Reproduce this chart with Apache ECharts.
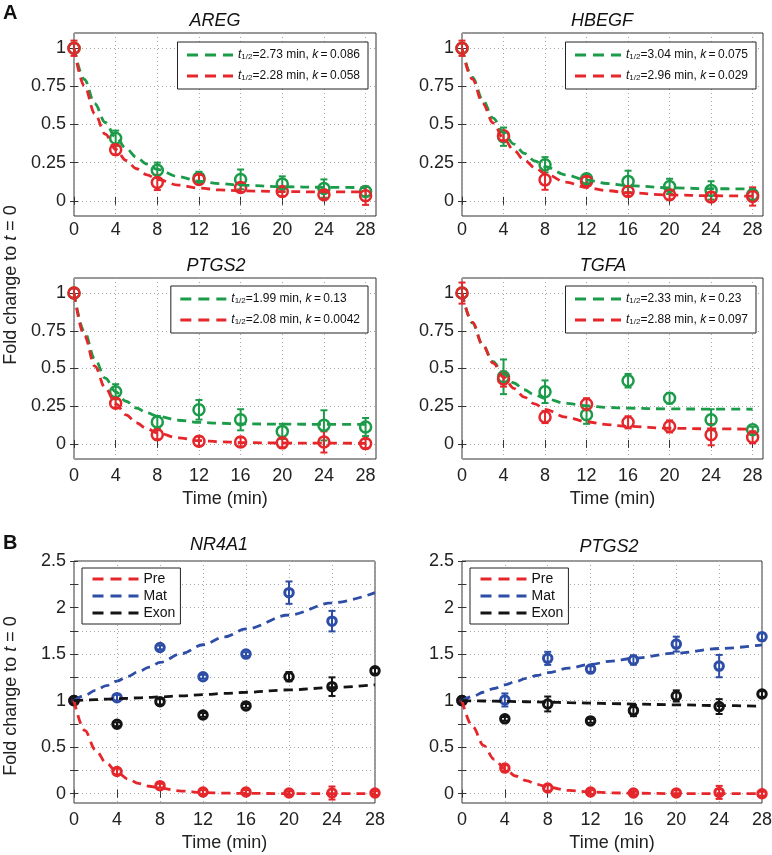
<!DOCTYPE html>
<html><head><meta charset="utf-8">
<script src="https://cdn.jsdelivr.net/npm/echarts@6/dist/echarts.min.js"></script>
<style>html,body{margin:0;padding:0;background:#fff}#chart{width:772px;height:855px}</style>
</head><body><div id="chart"></div>
<script>
// ---------- shared axes / categories ----------
const sampleTimes = [0, 4, 8, 12, 16, 20, 24, 28];
const fitTimes = [0, 1, 2, 3, 4, 5, 6, 7, 8, 10, 12, 14, 16, 20, 24, 28];
const xTickValues = [0, 4, 8, 12, 16, 20, 24, 28];
const yTicksA = [0, 0.25, 0.5, 0.75, 1];
const yLabelsB = [0, 0.5, 1, 1.5, 2, 2.5];
const yTicksB = [0, 0.25, 0.5, 0.75, 1, 1.25, 1.5, 1.75, 2, 2.25, 2.5];
const panelTitles = ['AREG', 'HBEGF', 'PTGS2', 'TGFA', 'NR4A1', 'PTGS2'];
const sectionLabels = ['A', 'B'];
const xAxisTitle = 'Time (min)';
const yAxisTitleParts = ['Fold change to ', 't', ' = 0'];
const seriesNamesB = ['Pre', 'Mat', 'Exon'];

// ---------- panel A: AREG ----------
const aregGreenMean = [1.0, 0.41, 0.20, 0.15, 0.14, 0.11, 0.08, 0.06];
const aregGreenErr  = [0.03, 0.05, 0.05, 0.04, 0.065, 0.05, 0.06, 0.03];
const aregRedMean   = [1.0, 0.334, 0.12, 0.14, 0.087, 0.06, 0.04, 0.033];
const aregRedErr    = [0.05, 0.03, 0.05, 0.03, 0.03, 0.03, 0.03, 0.06];
const aregGreenFit  = [1.0, 0.795, 0.636, 0.513, 0.417, 0.343, 0.285, 0.241, 0.206, 0.158, 0.129, 0.112, 0.102, 0.092, 0.088, 0.086];
const aregRedFit    = [1.0, 0.753, 0.571, 0.437, 0.337, 0.264, 0.210, 0.170, 0.141, 0.103, 0.083, 0.071, 0.065, 0.060, 0.058, 0.058];
const aregHalfLife  = ['2.73', '2.28'];
const aregK         = ['0.086', '0.058'];

// ---------- panel A: HBEGF ----------
const hbegfGreenMean = [1.0, 0.42, 0.236, 0.144, 0.127, 0.094, 0.068, 0.04];
const hbegfGreenErr  = [0.03, 0.06, 0.05, 0.03, 0.07, 0.05, 0.06, 0.04];
const hbegfRedMean   = [1.0, 0.426, 0.137, 0.127, 0.061, 0.039, 0.024, 0.028];
const hbegfRedErr    = [0.05, 0.03, 0.065, 0.03, 0.03, 0.03, 0.03, 0.06];
const hbegfGreenFit  = [1.0, 0.811, 0.661, 0.542, 0.447, 0.371, 0.311, 0.262, 0.224, 0.170, 0.135, 0.113, 0.099, 0.085, 0.079, 0.077];
const hbegfRedFit    = [1.0, 0.797, 0.637, 0.510, 0.410, 0.330, 0.267, 0.218, 0.178, 0.122, 0.087, 0.066, 0.052, 0.038, 0.033, 0.030];
const hbegfHalfLife  = ['3.04', '2.96'];
const hbegfK         = ['0.075', '0.029'];

// ---------- panel A: PTGS2 ----------
const ptgsAGreenMean = [1.0, 0.346, 0.145, 0.226, 0.16, 0.083, 0.123, 0.112];
const ptgsAGreenErr  = [0.03, 0.05, 0.04, 0.065, 0.07, 0.05, 0.10, 0.06];
const ptgsARedMean   = [1.0, 0.27, 0.061, 0.018, 0.013, 0.007, 0.013, 0.002];
const ptgsARedErr    = [0.03, 0.03, 0.03, 0.03, 0.03, 0.03, 0.07, 0.03];
const ptgsAGreenFit  = [1.0, 0.744, 0.563, 0.436, 0.346, 0.283, 0.238, 0.206, 0.184, 0.157, 0.143, 0.137, 0.133, 0.131, 0.130, 0.130];
const ptgsARedFit    = [1.0, 0.718, 0.516, 0.371, 0.267, 0.192, 0.139, 0.101, 0.073, 0.040, 0.022, 0.014, 0.009, 0.006, 0.005, 0.004];
const ptgsAHalfLife  = ['1.99', '2.08'];
const ptgsAK         = ['0.13', '0.0042'];

// ---------- panel A: TGFA ----------
const tgfaGreenMean = [1.0, 0.445, 0.346, 0.193, 0.419, 0.303, 0.16, 0.094];
const tgfaGreenErr  = [0.03, 0.115, 0.075, 0.06, 0.045, 0.035, 0.07, 0.02];
const tgfaRedMean   = [1.0, 0.43, 0.178, 0.263, 0.143, 0.116, 0.061, 0.044];
const tgfaRedErr    = [0.07, 0.05, 0.04, 0.04, 0.04, 0.04, 0.07, 0.04];
const tgfaGreenFit  = [1.0, 0.802, 0.655, 0.545, 0.464, 0.404, 0.359, 0.326, 0.301, 0.269, 0.252, 0.242, 0.237, 0.232, 0.231, 0.230];
const tgfaRedFit    = [1.0, 0.807, 0.655, 0.536, 0.442, 0.368, 0.310, 0.265, 0.229, 0.178, 0.147, 0.128, 0.116, 0.104, 0.100, 0.098];
const tgfaHalfLife  = ['2.33', '2.88'];
const tgfaK         = ['0.23', '0.097'];

// ---------- panel B: NR4A1 ----------
const nr4a1PreMean  = [1.0, 0.239, 0.086, 0.018, 0.018, 0.007, 0.007, 0.007];
const nr4a1PreErr   = [0.02, 0.03, 0.02, 0.02, 0.02, 0.02, 0.07, 0.02];
const nr4a1MatMean  = [1.0, 1.032, 1.571, 1.257, 1.5, 2.16, 1.854, null];
const nr4a1MatErr   = [0.02, 0.03, 0.02, 0.02, 0.02, 0.12, 0.11, 0];
const nr4a1ExonMean = [1.0, 0.746, 0.989, 0.846, 0.943, 1.257, 1.15, 1.32];
const nr4a1ExonErr  = [0.02, 0.02, 0.03, 0.02, 0.02, 0.05, 0.10, 0.03];
const nr4a1PreFit   = [1.0, 0.68, 0.47, 0.33, 0.23, 0.16, 0.11, 0.08, 0.06, 0.028, 0.013, 0.006, 0.003, 0.001, 0, 0];
const nr4a1MatFit   = [1.0, 1.055, 1.11, 1.16, 1.21, 1.26, 1.31, 1.36, 1.41, 1.505, 1.60, 1.685, 1.77, 1.92, 2.05, 2.16];
const nr4a1ExonFit  = [1.0, 1.005, 1.01, 1.015, 1.02, 1.025, 1.03, 1.035, 1.04, 1.052, 1.064, 1.077, 1.09, 1.115, 1.14, 1.17];

// ---------- panel B: PTGS2 ----------
const ptgsBPreMean  = [1.0, 0.275, 0.061, 0.018, 0.007, 0.007, 0.014, 0.0];
const ptgsBPreErr   = [0.02, 0.03, 0.03, 0.02, 0.02, 0.03, 0.07, 0.02];
const ptgsBMatMean  = [1.0, 1.007, 1.454, 1.339, 1.436, 1.607, 1.371, 1.686];
const ptgsBMatErr   = [0.02, 0.07, 0.07, 0.03, 0.05, 0.08, 0.12, 0.04];
const ptgsBExonMean = [1.0, 0.804, 0.964, 0.782, 0.893, 1.05, 0.936, 1.071];
const ptgsBExonErr  = [0.02, 0.02, 0.08, 0.02, 0.06, 0.06, 0.08, 0.03];
const ptgsBPreFit   = [1.0, 0.72, 0.52, 0.37, 0.27, 0.19, 0.14, 0.10, 0.07, 0.035, 0.018, 0.009, 0.005, 0.001, 0, 0];
const ptgsBMatFit   = [1.0, 1.045, 1.09, 1.13, 1.17, 1.205, 1.24, 1.27, 1.30, 1.35, 1.39, 1.425, 1.455, 1.51, 1.56, 1.60];
const ptgsBExonFit  = [1.0, 0.998, 0.996, 0.994, 0.992, 0.99, 0.988, 0.986, 0.983, 0.978, 0.973, 0.968, 0.963, 0.955, 0.947, 0.94];

// ---------- styling / layout ----------
const FONT = '"Liberation Sans", Arial, Helvetica, sans-serif';
const GREEN = '#1c9b4a', RED = '#e5262b', BLUE = '#2d4da6', BLACK = '#141414';
const gridBoxes = [
  { left: 74, top: 33, width: 302, height: 183 },
  { left: 462, top: 33, width: 301, height: 183 },
  { left: 74, top: 278, width: 302, height: 181 },
  { left: 462, top: 278, width: 301, height: 181 },
  { left: 74, top: 561, width: 301, height: 242 },
  { left: 462, top: 561, width: 300, height: 242 }
];
const titleCenters = [[215, 21], [602, 21], [216, 266], [603, 266], [219, 545], [609, 547]];

const panelsA = [
  { green: [aregGreenMean, aregGreenErr, aregGreenFit], red: [aregRedMean, aregRedErr, aregRedFit], half: aregHalfLife, k: aregK, legend: { right: 404, top: 42 } },
  { green: [hbegfGreenMean, hbegfGreenErr, hbegfGreenFit], red: [hbegfRedMean, hbegfRedErr, hbegfRedFit], half: hbegfHalfLife, k: hbegfK, legend: { right: 16, top: 42 } },
  { green: [ptgsAGreenMean, ptgsAGreenErr, ptgsAGreenFit], red: [ptgsARedMean, ptgsARedErr, ptgsARedFit], half: ptgsAHalfLife, k: ptgsAK, legend: { right: 404, top: 286 } },
  { green: [tgfaGreenMean, tgfaGreenErr, tgfaGreenFit], red: [tgfaRedMean, tgfaRedErr, tgfaRedFit], half: tgfaHalfLife, k: tgfaK, legend: { right: 16, top: 286 } }
];
const panelsB = [
  { sets: [[nr4a1PreMean, nr4a1PreErr, nr4a1PreFit], [nr4a1MatMean, nr4a1MatErr, nr4a1MatFit], [nr4a1ExonMean, nr4a1ExonErr, nr4a1ExonFit]], legend: { left: 82, top: 568 } },
  { sets: [[ptgsBPreMean, ptgsBPreErr, ptgsBPreFit], [ptgsBMatMean, ptgsBMatErr, ptgsBMatFit], [ptgsBExonMean, ptgsBExonErr, ptgsBExonFit]], legend: { left: 470, top: 568 } }
];
const colorsB = [RED, BLUE, BLACK];

// ---------- builders ----------
const gridSplit = { show: true, lineStyle: { color: '#a8a8a8', type: [1, 3], width: 1 } };
const labelStyle = { fontSize: 18, fontFamily: FONT, color: '#222' };

const grids = gridBoxes.map(b => Object.assign({}, b, {
  show: true, borderColor: '#333', borderWidth: 1, backgroundColor: 'rgba(0,0,0,0)',
  containLabel: false, outerBoundsMode: 'none'
}));

const xAxes = [], yAxes = [];
gridBoxes.forEach((b, gi) => {
  const isA = gi < 4;
  const xmax = isA ? 29 : 28;
  xAxes.push({
    type: 'value', gridIndex: gi, position: 'bottom', min: 0, max: xmax,
    axisLine: { show: false },
    axisTick: { show: true, inside: true, length: 4, customValues: xTickValues, lineStyle: { color: '#333' } },
    axisLabel: Object.assign({ customValues: xTickValues, margin: gi < 2 ? 5 : 8 }, labelStyle),
    splitLine: gridSplit,
    name: gi >= 2 ? xAxisTitle : '', nameLocation: 'middle', nameGap: 31,
    nameTextStyle: labelStyle
  });
  xAxes.push({
    type: 'value', gridIndex: gi, position: 'top', min: 0, max: xmax,
    axisLine: { show: false },
    axisTick: { show: true, inside: true, length: 4, customValues: xTickValues, lineStyle: { color: '#333' } },
    axisLabel: { show: false }, splitLine: { show: false }
  });
  const yTicks = isA ? yTicksA : yTicksB;
  const yLabels = isA ? yTicksA : yLabelsB;
  const ymax = isA ? 1.1 : 2.5;
  yAxes.push({
    type: 'value', gridIndex: gi, position: 'left', min: -0.1, max: ymax,
    axisLine: { show: false },
    axisTick: { show: true, inside: true, length: 4, customValues: yTicks, lineStyle: { color: '#333' } },
    axisLabel: Object.assign({ customValues: yLabels, margin: 8 }, labelStyle),
    splitLine: gridSplit
  });
  yAxes.push({
    type: 'value', gridIndex: gi, position: 'right', min: -0.1, max: ymax,
    axisLine: { show: false },
    axisTick: { show: true, inside: true, length: 4, customValues: yTicks, lineStyle: { color: '#333' } },
    axisLabel: { show: false }, splitLine: { show: false }
  });
});

function renderErrorBar(params, api) {
  const x = api.value(0);
  const lo = api.coord([x, api.value(1)]);
  const hi = api.coord([x, api.value(2)]);
  const cap = 3.5;
  const style = { stroke: api.visual('color'), lineWidth: 2 };
  return {
    type: 'group', children: [
      { type: 'line', shape: { x1: lo[0], y1: lo[1], x2: hi[0], y2: hi[1] }, style },
      { type: 'line', shape: { x1: lo[0] - cap, y1: lo[1], x2: lo[0] + cap, y2: lo[1] }, style },
      { type: 'line', shape: { x1: hi[0] - cap, y1: hi[1], x2: hi[0] + cap, y2: hi[1] }, style }
    ]
  };
}

const series = [];
const legends = [];
const legendRichText = {};

function addData(gi, label, color, mean, err, symSize, border) {
  const eb = [], pts = [];
  sampleTimes.forEach((t, j) => {
    if (mean[j] == null) return;
    eb.push([t, mean[j] - err[j], mean[j] + err[j]]);
    pts.push([t, mean[j]]);
  });
  series.push({
    type: 'custom', name: label + ' err', xAxisIndex: 2 * gi, yAxisIndex: 2 * gi,
    renderItem: renderErrorBar, itemStyle: { color }, encode: { x: 0, y: [1, 2] },
    data: eb, silent: true, z: 3
  });
  series.push({
    type: 'scatter', name: label + ' data', xAxisIndex: 2 * gi, yAxisIndex: 2 * gi,
    symbol: 'circle', symbolSize: symSize,
    itemStyle: { color: 'rgba(255,255,255,0)', borderColor: color, borderWidth: border, opacity: 1 },
    data: pts, silent: true, z: 3
  });
}
function addFit(gi, name, color, fit) {
  series.push({
    type: 'line', name, xAxisIndex: 2 * gi, yAxisIndex: 2 * gi,
    data: fitTimes.map((t, j) => [t, fit[j]]),
    symbol: 'none', smooth: 0.35, smoothMonotone: 'x',
    lineStyle: { color, width: 2.8, type: [9, 6] }, itemStyle: { color },
    silent: true, z: 4
  });
}

panelsA.forEach((p, gi) => {
  const title = panelTitles[gi];
  addData(gi, title + ' green', GREEN, p.green[0], p.green[1], 11, 2.5);
  addData(gi, title + ' red', RED, p.red[0], p.red[1], 11, 2.5);
  const names = [];
  [[GREEN, p.green[2]], [RED, p.red[2]]].forEach((c, ci) => {
    const nm = title + ' fit ' + ci;
    legendRichText[nm] = '{i|t}{s|1/2}=' + p.half[ci] + ' min, {i|k}\u2009=\u2009' + p.k[ci];
    addFit(gi, nm, c[0], c[1]);
    names.push(nm);
  });
  legends.push(Object.assign({
    data: names, orient: 'vertical', align: 'left', selectedMode: false,
    backgroundColor: '#fff', borderColor: '#222', borderWidth: 1,
    padding: [7, 8, 7, 8], itemGap: 9, itemWidth: 46, itemHeight: 14,
    lineStyle: { width: 3, type: [11, 7] },
    itemStyle: { opacity: 0 },
    formatter: n => legendRichText[n] || n,
    textStyle: {
      fontSize: 12, fontFamily: FONT, color: '#111',
      rich: {
        i: { fontSize: 12, fontFamily: FONT, fontStyle: 'italic', color: '#111' },
        s: { fontSize: 8, fontFamily: FONT, color: '#111', verticalAlign: 'bottom', lineHeight: 10 }
      }
    }
  }, p.legend));
});

panelsB.forEach((p, bi) => {
  const gi = 4 + bi;
  const title = panelTitles[gi] + ' B';
  p.sets.forEach((s, si) => addData(gi, title + ' ' + seriesNamesB[si], colorsB[si], s[0], s[1], 8.5, 3));
  p.sets.forEach((s, si) => addFit(gi, seriesNamesB[si], colorsB[si], s[2]));
  legends.push(Object.assign({
    data: seriesNamesB.slice(), orient: 'vertical', align: 'left', selectedMode: false,
    backgroundColor: '#fff', borderColor: '#222', borderWidth: 1,
    padding: [4, 5, 4, 9], itemGap: 3, itemWidth: 46, itemHeight: 13,
    lineStyle: { width: 3, type: [11, 7] },
    itemStyle: { opacity: 0 },
    textStyle: { fontSize: 14, fontFamily: FONT, color: '#111', lineHeight: 14 }
  }, p.legend));
});

const titles = [
  { text: sectionLabels[0], left: 3, top: 3, padding: 0, textStyle: { fontSize: 20, fontWeight: 'bold', fontFamily: FONT, color: '#111' } },
  { text: sectionLabels[1], left: 3, top: 533, padding: 0, textStyle: { fontSize: 20, fontWeight: 'bold', fontFamily: FONT, color: '#111' } }
].concat(panelTitles.map((t, i) => ({
  text: t, left: titleCenters[i][0], top: titleCenters[i][1] - 9, textAlign: 'center', padding: 0,
  textStyle: { fontSize: 18, fontStyle: 'italic', fontWeight: 'normal', fontFamily: FONT, color: '#111' }
})));

function yTitle(cy) {
  return {
    type: 'text', x: 11, y: cy, rotation: Math.PI / 2, silent: true,
    style: {
      text: yAxisTitleParts[0] + '{i|' + yAxisTitleParts[1] + '}' + yAxisTitleParts[2],
      fontSize: 18, fontFamily: FONT, fill: '#222', align: 'center', verticalAlign: 'middle',
      rich: { i: { fontSize: 18, fontFamily: FONT, fontStyle: 'italic', fill: '#222', color: '#222' } }
    }
  };
}

const chart = echarts.init(document.getElementById('chart'), null, { renderer: 'canvas' });
chart.setOption({
  backgroundColor: '#fff',
  animation: false,
  title: titles,
  grid: grids,
  xAxis: xAxes,
  yAxis: yAxes,
  legend: legends,
  tooltip: { show: false },
  graphic: [yTitle(285), yTitle(696)],
  series
});
</script>
</body></html>
